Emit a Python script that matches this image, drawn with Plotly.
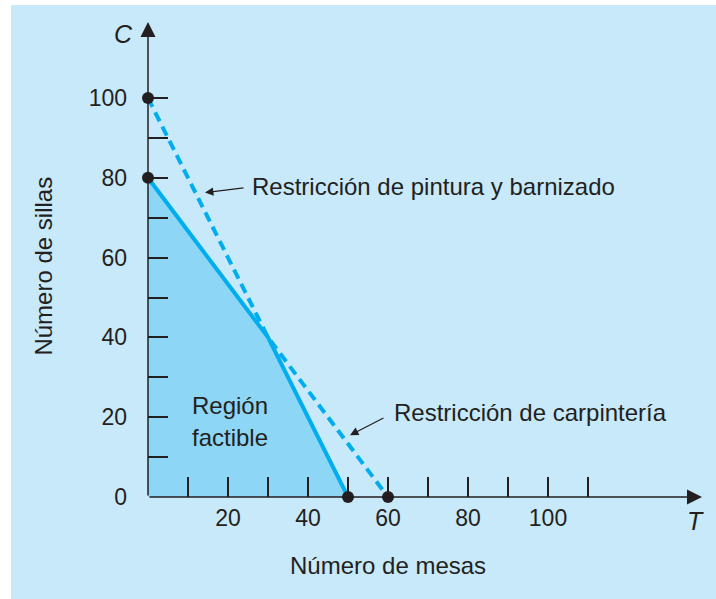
import plotly.graph_objects as go

# ---- data ----
region_T = [0, 0, 30, 50, 0]
region_C = [0, 80, 40, 0, 0]
binding_T = [0, 30, 50]
binding_C = [80, 40, 0]
nonbinding_T = [0, 30, 60]
nonbinding_C = [100, 40, 0]
points_T = [0, 0, 50, 60]
points_C = [100, 80, 0, 0]
x_major = [20, 40, 60, 80, 100]
x_minor = [10, 30, 50, 70, 90, 110]
y_major = [0, 20, 40, 60, 80, 100]
y_minor = [10, 30, 50, 70, 90]

INK = "#231f20"
LINE = "#00aeef"
FILL = "#8dd6f5"
BG = "#c7e9f9"
FONT = "Liberation Sans, Arial, sans-serif"
FS = 24
TFS = 23

W, H = 716, 599
ML, MR, MT, MB = 148, 14, 22, 102
pw, ph = W - ML - MR, H - MT - MB
XMAX = pw / 4.0
YMAX = ph / 3.99


def px(T):
    return T / XMAX


def py(C):
    return C / YMAX


fig = go.Figure()
fig.add_trace(go.Scatter(x=region_T, y=region_C, mode="lines", fill="toself",
                         fillcolor=FILL, line=dict(width=0), hoverinfo="skip",
                         showlegend=False))
fig.add_trace(go.Scatter(x=nonbinding_T, y=nonbinding_C, mode="lines",
                         line=dict(color=LINE, width=4, dash="10px,6px"),
                         showlegend=False, cliponaxis=False))
fig.add_trace(go.Scatter(x=binding_T, y=binding_C, mode="lines",
                         line=dict(color=LINE, width=4),
                         showlegend=False, cliponaxis=False))
fig.add_trace(go.Scatter(x=points_T, y=points_C, mode="markers",
                         marker=dict(color=INK, size=12),
                         showlegend=False, cliponaxis=False))

ann = []
# axes with arrows
ann.append(dict(x=XMAX, y=0, ax=0, ay=0, xref="x", yref="y", axref="x", ayref="y",
                text="", showarrow=True, arrowhead=2, arrowsize=2.0, arrowwidth=1.5,
                arrowcolor=INK))
ann.append(dict(x=0, y=YMAX, ax=0, ay=0, xref="x", yref="y", axref="x", ayref="y",
                text="", showarrow=True, arrowhead=2, arrowsize=2.0, arrowwidth=1.5,
                arrowcolor=INK))
# constraint labels
ann.append(dict(x=25.5, y=77.8, xref="x", yref="y", text="Restricción de pintura y barnizado",
                showarrow=False, xanchor="left", yanchor="middle",
                font=dict(family=FONT, size=FS, color=INK)))
ann.append(dict(x=14.25, y=76.3, ax=24.25, ay=77.5, xref="x", yref="y", axref="x", ayref="y",
                text="", showarrow=True, arrowhead=2, arrowsize=1.4, arrowwidth=1.2,
                arrowcolor=INK))
ann.append(dict(x=61, y=21.3, xref="x", yref="y", text="Restricción de carpintería",
                showarrow=False, xanchor="left", yanchor="middle",
                font=dict(family=FONT, size=FS, color=INK)))
ann.append(dict(x=50.5, y=15.5, ax=59.25, ay=20, xref="x", yref="y", axref="x", ayref="y",
                text="", showarrow=True, arrowhead=2, arrowsize=1.4, arrowwidth=1.2,
                arrowcolor=INK))
# region label
ann.append(dict(x=20.5, y=23, xref="x", yref="y", text="Región", showarrow=False,
                xanchor="center", yanchor="middle",
                font=dict(family=FONT, size=FS, color=INK)))
ann.append(dict(x=20.5, y=15, xref="x", yref="y", text="factible", showarrow=False,
                xanchor="center", yanchor="middle",
                font=dict(family=FONT, size=FS, color=INK)))
# axis titles (paper coords so they are not hidden outside the axis range)
ann.append(dict(x=px(-26), y=py(57.75), xref="paper", yref="paper", text="Número de sillas",
                showarrow=False, textangle=-90, xanchor="center", yanchor="middle",
                font=dict(family=FONT, size=FS, color=INK)))
ann.append(dict(x=px(60), y=py(-17.25), xref="paper", yref="paper", text="Número de mesas",
                showarrow=False, xanchor="center", yanchor="middle",
                font=dict(family=FONT, size=FS, color=INK)))
ann.append(dict(x=px(-6.25), y=py(116), xref="paper", yref="paper", text="<i>C</i>",
                showarrow=False, xanchor="center", yanchor="middle",
                font=dict(family=FONT, size=25, color=INK)))
ann.append(dict(x=px(136.75), y=py(-6), xref="paper", yref="paper", text="<i>T</i>",
                showarrow=False, xanchor="center", yanchor="middle",
                font=dict(family=FONT, size=25, color=INK)))

px0, px1 = (11 - ML) / pw, (W - ML) / pw
py0, py1 = (MT + ph - H) / ph, (MT + ph - 5) / ph

fig.update_layout(
    width=W, height=H,
    margin=dict(l=ML, r=MR, t=MT, b=MB, autoexpand=False),
    paper_bgcolor="white", plot_bgcolor="rgba(0,0,0,0)",
    annotations=ann,
    shapes=[dict(type="rect", xref="paper", yref="paper", x0=px0, x1=px1, y0=py0, y1=py1,
                 fillcolor=BG, line=dict(width=0), layer="below")],
    xaxis=dict(range=[0, XMAX], showgrid=False, zeroline=False, showline=False,
               tickmode="array", tickvals=x_major, ticks="inside", ticklen=20,
               tickwidth=1.5, tickcolor=INK, ticklabelstandoff=5, automargin=False,
               tickfont=dict(family=FONT, size=TFS, color=INK),
               minor=dict(tickmode="array", tickvals=x_minor, ticks="inside", ticklen=20,
                          tickwidth=1.5, tickcolor=INK)),
    yaxis=dict(range=[0, YMAX], showgrid=False, zeroline=False, showline=False,
               tickmode="array", tickvals=y_major, ticks="inside", ticklen=20,
               tickwidth=1.5, tickcolor=INK, ticklabelstandoff=20, automargin=False,
               tickfont=dict(family=FONT, size=TFS, color=INK),
               minor=dict(tickmode="array", tickvals=y_minor, ticks="inside", ticklen=20,
                          tickwidth=1.5, tickcolor=INK)),
)

fig.write_html("out.html", config={"displayModeBar": False},
               post_script="document.body.style.margin='0';document.body.style.overflow='hidden';")
